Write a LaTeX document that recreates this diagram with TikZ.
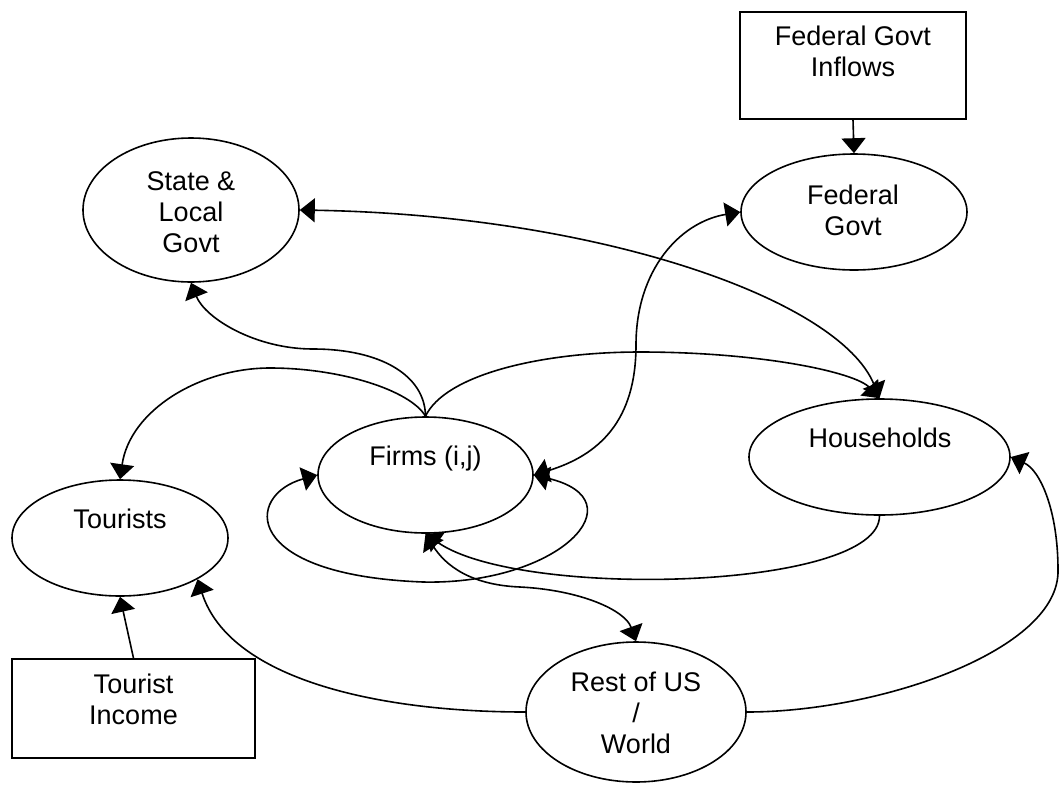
\documentclass[tikz,border=0pt]{standalone}
\usepackage{fontspec}
\setmainfont{Liberation Sans}
\usetikzlibrary{arrows.meta,shapes.geometric}
\begin{document}
\begin{tikzpicture}[x=1pt,y=-1pt,line width=1.6pt,
  oval/.style={draw,ellipse,inner sep=0pt},
  box/.style={draw,rectangle,inner sep=0pt},
  lbl/.style={font=\fontsize{27pt}{31pt}\selectfont,inner sep=0pt,anchor=base},
  tip/.tip={Triangle[length=15pt,width=24pt]},
  flow/.style={-tip},
  twoway/.style={tip-tip}]
\fill[white] (0,0) rectangle (1061,785);
\useasboundingbox (0,0) rectangle (1061,785);

% sectors
\node[box,minimum width=226pt,minimum height=107pt] (fgin) at (853,65.5) {};
\node[oval,minimum width=226pt,minimum height=116pt] (fg) at (854,212) {};
\node[oval,minimum width=216pt,minimum height=144pt] (sl) at (191,210) {};
\node[oval,minimum width=215pt,minimum height=116pt] (firms) at (425.5,475) {};
\node[oval,minimum width=261pt,minimum height=116pt] (hh) at (879.5,457) {};
\node[oval,minimum width=216pt,minimum height=116pt] (tour) at (120,538) {};
\node[oval,minimum width=220pt,minimum height=140pt] (rous) at (636,712) {};
\node[box,minimum width=243pt,minimum height=99pt] (ti) at (133.5,708.5) {};

% labels, set from the top of each shape
\node[lbl] (fgin-a) at (853,45) {Federal Govt};
\node[lbl] (fgin-b) at (853,76) {Inflows};
\node[lbl] (fg-a) at (853,204) {Federal};
\node[lbl] (fg-b) at (853,235) {Govt};
\node[lbl] (sl-a) at (191,190) {State \&};
\node[lbl] (sl-b) at (191,221) {Local};
\node[lbl] (sl-c) at (191,252) {Govt};
\node[lbl] (firms-a) at (425.5,465) {Firms (i,j)};
\node[lbl] (hh-a) at (880,447) {Households};
\node[lbl] (tour-a) at (120,528) {Tourists};
\node[lbl] (rous-a) at (636,691) {Rest of US};
\node[lbl] (rous-b) at (636,722) {/};
\node[lbl] (rous-c) at (636,753) {World};
\node[lbl] (ti-a) at (133.5,693) {Tourist};
\node[lbl] (ti-b) at (133.5,724) {Income};

% flows
\draw[flow] (fgin.south) -- (fg.north);
\draw[flow] (ti.north) -- (tour.south);
\draw[flow] (firms.north) .. controls (425,375) and (380,349) .. (313,349)
  .. controls (255,349) and (205,318) .. (sl.south);
\draw[flow] (firms.north) .. controls (410,390) and (340,368) .. (270,368)
  .. controls (200,368) and (130,410) .. (tour.north);
\draw[flow] (firms.north) .. controls (445,375) and (540,352) .. (640,352)
  .. controls (760,352) and (855,372) .. (hh.north);
\draw[twoway] (sl.east) .. controls (600,215) and (840,300) .. (hh.north);
\draw[twoway] (firms.east) .. controls (600,455) and (636,420) .. (636,345)
  .. controls (636,270) and (680,222) .. (fg.west);
\draw[twoway] (firms.west) .. controls (245,495) and (240,575) .. (423,582)
  .. controls (560,585) and (640,500) .. (firms.east);
\draw[flow] (hh.south) .. controls (880,590) and (520,600) .. (firms.south);
\draw[twoway] (firms.south) .. controls (445,565) and (470,585) .. (520,587)
  .. controls (580,590) and (625,610) .. (rous.north);
\draw[flow] (rous.west) .. controls (380,712) and (230,680) .. (tour.-28);
\draw[flow] (rous.east) .. controls (880,712) and (1060,650) .. (1058,570)
  .. controls (1058,510) and (1040,470) .. (hh.east);
\end{tikzpicture}
\end{document}
